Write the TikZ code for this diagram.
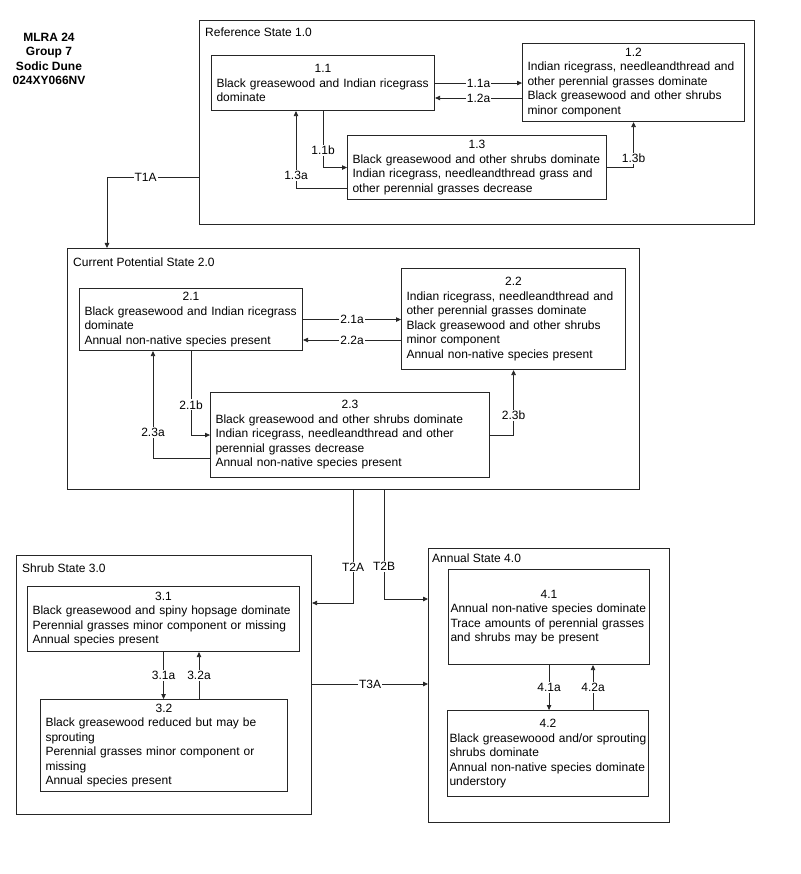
\documentclass[tikz,border=0pt]{standalone}
\usepackage{fontspec}
\setmainfont{Liberation Sans}
\usetikzlibrary{arrows.meta}

\begin{document}
\begin{tikzpicture}[x=1pt, y=-1pt,
    every node/.style={font={\fontsize{12}{14.5}\selectfont}},
    state/.style={draw=black!85, line width=1.1pt, anchor=north west, inner sep=0pt},
    comm/.style={draw=black!85, line width=1.1pt, anchor=north west, align=left, inner xsep=5pt, inner ysep=2pt},
    lbl/.style={fill=white, inner sep=1pt},
    link/.style={draw=black!85, line width=0.8pt, -{Triangle[length=5pt,width=4.5pt]}}]
    \useasboundingbox (0,0) rectangle (800,874);

    \node[font={\bfseries\fontsize{12}{14.3}\selectfont}, align=center, anchor=north, inner sep=0pt] (mlra) at (49,33) {MLRA 24\\Group 7\\Sodic Dune\\024XY066NV};

    \node[state, minimum width=555pt, minimum height=204pt] (ref) at (199,20) {};
    \node[state, minimum width=572pt, minimum height=241pt] (cur) at (67,248) {};
    \node[state, minimum width=295pt, minimum height=259pt] (shrub) at (16,555) {};
    \node[state, minimum width=241pt, minimum height=274pt] (annual) at (428,548) {};
    \node[anchor=base west, inner sep=0pt] (reftitle) at (205,37) {Reference State 1.0};
    \node[anchor=base west, inner sep=0pt] (curtitle) at (73,266) {Current Potential State 2.0};
    \node[anchor=base west, inner sep=0pt] (shrubtitle) at (22,572) {Shrub State 3.0};
    \node[anchor=base west, inner sep=0pt] (annualtitle) at (432,562) {Annual State 4.0};

    \node[comm, text width=213pt, minimum height=55pt] (c11) at (211,55) {\hfill 1.1\hfill\null\\Black greasewood and Indian ricegrass\\dominate};
    \node[comm, text width=212pt, minimum height=78pt] (c12) at (522,43) {\hfill 1.2\hfill\null\\Indian ricegrass, needleandthread and\\other perennial grasses dominate\\Black greasewood and other shrubs\\minor component};
    \node[comm, text width=249pt, minimum height=64pt] (c13) at (347,135) {\hfill 1.3\hfill\null\\Black greasewood and other shrubs dominate\\Indian ricegrass, needleandthread grass and\\other perennial grasses decrease};

    \node[comm, text width=213pt, minimum height=62pt] (c21) at (79,288) {\hfill 2.1\hfill\null\\Black greasewood and Indian ricegrass\\dominate\\Annual non-native species present};
    \node[comm, text width=214pt, minimum height=101pt] (c22) at (401,268) {\hfill 2.2\hfill\null\\Indian ricegrass, needleandthread and\\other perennial grasses dominate\\Black greasewood and other shrubs\\minor component\\Annual non-native species present};
    \node[comm, text width=269pt, minimum height=85pt] (c23) at (210,392) {\hfill 2.3\hfill\null\\Black greasewood and other shrubs dominate\\Indian ricegrass, needleandthread and other\\perennial grasses decrease\\Annual non-native species present};

    \node[comm, text width=262pt, minimum height=65pt] (c31) at (27,586) {\hfill 3.1\hfill\null\\Black greasewood and spiny hopsage dominate\\Perennial grasses minor component or missing\\Annual species present};
    \node[comm, text width=237pt, minimum height=92pt] (c32) at (40,699) {\hfill 3.2\hfill\null\\Black greasewood reduced but may be\\sprouting\\Perennial grasses minor component or\\missing\\Annual species present};

    \node[comm, inner xsep=2pt, text width=197pt, minimum height=95pt] (c41) at (448,569) {\hfill 4.1\hfill\null\\Annual non-native species dominate\\Trace amounts of perennial grasses\\and shrubs may be present};
    \node[comm, inner xsep=2pt, text width=197pt, minimum height=86pt] (c42) at (447,710) {\hfill 4.2\hfill\null\\Black greasewoood and/or sprouting\\shrubs dominate\\Annual non-native species dominate\\understory};

    \draw[link] (c11.east) -- node[lbl]{1.1a} (c11.east -| c12.west);
    \draw[link] (c12.west |- 0,98) -- node[lbl]{1.2a} (c11.east |- 0,98);
    \draw[link] (c11.south) |- node[lbl, pos=0.35]{1.1b} (c13.west);
    \draw[link] (c13.west |- 0,188) -| node[lbl, pos=0.58]{1.3a} (c11.south -| 296,0);
    \draw[link] (c13.east) -| node[lbl, pos=0.6]{1.3b} (c12.south);
    \draw[link] (ref.west |- 0,177) -| node[lbl, pos=0.29]{T1A} (cur.north -| 107,0);

    \draw[link] (c21.east) -- node[lbl]{2.1a} (c21.east -| c22.west);
    \draw[link] (c22.west |- 0,340) -- node[lbl]{2.2a} (c21.east |- 0,340);
    \draw[link] (c21.south) |- node[lbl, pos=0.32]{2.1b} (c23.west);
    \draw[link] (c23.west |- 0,458) -| node[lbl, pos=0.62]{2.3a} (c21.south -| 153,0);
    \draw[link] (c23.east) -| node[lbl, pos=0.65]{2.3b} (c22.south);

    \draw[link] (cur.south -| 353,0) |- node[lbl, pos=0.34]{T2A} (shrub.east |- 0,603);
    \draw[link] (cur.south -| 384,0) |- node[lbl, pos=0.35]{T2B} (annual.west |- 0,599);
    \draw[link] (shrub.east |- 0,684) -- node[lbl]{T3A} (annual.west |- 0,684);

    \draw[link] (c31.south) -- node[lbl]{3.1a} (c31.south |- c32.north);
    \draw[link] (c32.north -| 199,0) -- node[lbl]{3.2a} (c31.south -| 199,0);
    \draw[link] (c41.south) -- node[lbl]{4.1a} (c41.south |- c42.north);
    \draw[link] (c42.north -| 593,0) -- node[lbl]{4.2a} (c41.south -| 593,0);
\end{tikzpicture}
\end{document}
